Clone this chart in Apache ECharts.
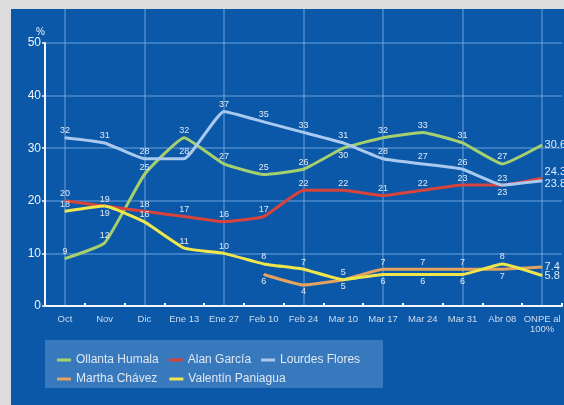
<!DOCTYPE html>
<html><head><meta charset="utf-8">
<script src="https://cdn.jsdelivr.net/npm/echarts@6/dist/echarts.min.js"></script>
<style>html,body{margin:0;padding:0;background:#dcdcdc}#c{width:564px;height:405px}</style>
</head><body><div id="c"></div>
<script>
const categories = ['Oct','Nov','Dic','Ene 13','Ene 27','Feb 10','Feb 24','Mar 10','Mar 17','Mar 24','Mar 31','Abr 08','ONPE al\n100%'];
const humala   = [9,12,25,32,27,25,26,30,32,33,31,27,30.6];
const garcia   = [20,19,18,17,16,17,22,22,21,22,23,23,24.3];
const flores   = [32,31,28,28,37,35,33,31,28,27,26,23,23.8];
const chavez   = [null,null,null,null,null,6,4,5,7,7,7,7,7.4];
const paniagua = [18,19,16,11,10,8,7,5,6,6,6,8,5.8];
const yTicks = [0,10,20,30,40,50];

const FONT = '"Liberation Sans", Arial, sans-serif';
const LBL = '#e2eaf3';

function build(values, below) {
  const last = values.length - 1;
  return values.map((v, i) => {
    if (v === null) return null;
    if (i === last) {
      return {value: v, label: {position: 'right', distance: 2, fontSize: 11}};
    }
    return {value: v, label: {position: below.indexOf(i) >= 0 ? 'bottom' : 'top'}};
  });
}

function line(name, color, values, below, endDy) {
  const last = values.length - 1;
  return {
    name, type: 'line', xAxisIndex: 0, yAxisIndex: 0,
    data: build(values, below),
    symbol: 'circle', symbolSize: 1, showSymbol: true, showAllSymbol: true, smooth: 0.12, connectNulls: false,
    lineStyle: {color, width: 3},
    itemStyle: {color},
    label: {show: true, color: LBL, fontSize: 9, fontFamily: FONT, distance: 2},
    labelLayout: function (p) { return (p.dataIndex === last && endDy) ? {dy: endDy} : {}; },
    emphasis: {disabled: true}
  };
}

const chart = echarts.init(document.getElementById('c'));
chart.setOption({
  animation: false,
  backgroundColor: '#dcdcdc',
  textStyle: {fontFamily: FONT},
  graphic: [
    {type: 'rect', z: -10, shape: {x: 11, y: 9, width: 553, height: 396}, style: {fill: '#0b58a8'}},
    {type: 'rect', z: -5, shape: {x: 45, y: 340, width: 338, height: 48}, style: {fill: '#3878bd'}}
  ],
  grid: [
    {left: 45, right: 2, top: 43, bottom: 99},
    {left: 45, right: 2, top: 9, bottom: 99}
  ],
  xAxis: [
    {type: 'category', gridIndex: 0, data: categories, boundaryGap: true,
     axisLine: {lineStyle: {color: '#f2f6fb', width: 2}},
     axisTick: {show: true, inside: true, length: 3, lineStyle: {color: '#f2f6fb', width: 2}},
     axisLabel: {color: '#cfdcec', fontSize: 9.5, margin: 8, interval: 0, lineHeight: 10},
     splitLine: {show: false}},
    {type: 'category', gridIndex: 1, data: categories, boundaryGap: true,
     axisLine: {show: false}, axisTick: {show: false}, axisLabel: {show: false},
     splitLine: {show: true, alignWithLabel: true, lineStyle: {color: 'rgba(130,180,235,0.55)', width: 1.5}}}
  ],
  yAxis: [
    {type: 'value', gridIndex: 0, min: yTicks[0], max: yTicks[yTicks.length-1], interval: 10,
     name: '%', nameGap: 5, nameTextStyle: {color: '#e8eef6', fontSize: 10, align: 'right'},
     axisLine: {show: true, lineStyle: {color: '#f2f6fb', width: 2}},
     axisTick: {show: true, length: 3, lineStyle: {color: '#f2f6fb', width: 1.5}},
     axisLabel: {color: '#eef3f9', fontSize: 12, margin: 4},
     splitLine: {show: true, lineStyle: {color: 'rgba(130,180,235,0.55)', width: 1.5}}},
    {type: 'value', gridIndex: 1, show: false, splitLine: {show: false}}
  ],
  legend: [
    {data: ['Ollanta Humala','Alan García','Lourdes Flores'], left: 52, top: 349, itemWidth: 14, itemHeight: 3, itemGap: 10,
     icon: 'rect', textStyle: {color: '#dfe8f3', fontSize: 12}, selectedMode: false},
    {data: ['Martha Chávez','Valentín Paniagua'], left: 52, top: 368, itemWidth: 14, itemHeight: 3, itemGap: 12,
     icon: 'rect', textStyle: {color: '#dfe8f3', fontSize: 12}, selectedMode: false}
  ],
  series: [
    line('Ollanta Humala', '#a6cf6e', humala, [7], 0),
    line('Alan García', '#d8443b', garcia, [], -6),
    line('Lourdes Flores', '#a9c9ef', flores, [11], 3),
    line('Martha Chávez', '#e3a35e', chavez, [5,6,7,11], 0),
    line('Valentín Paniagua', '#efe64c', paniagua, [1,8,9,10], 0)
  ]
});
</script></body></html>
